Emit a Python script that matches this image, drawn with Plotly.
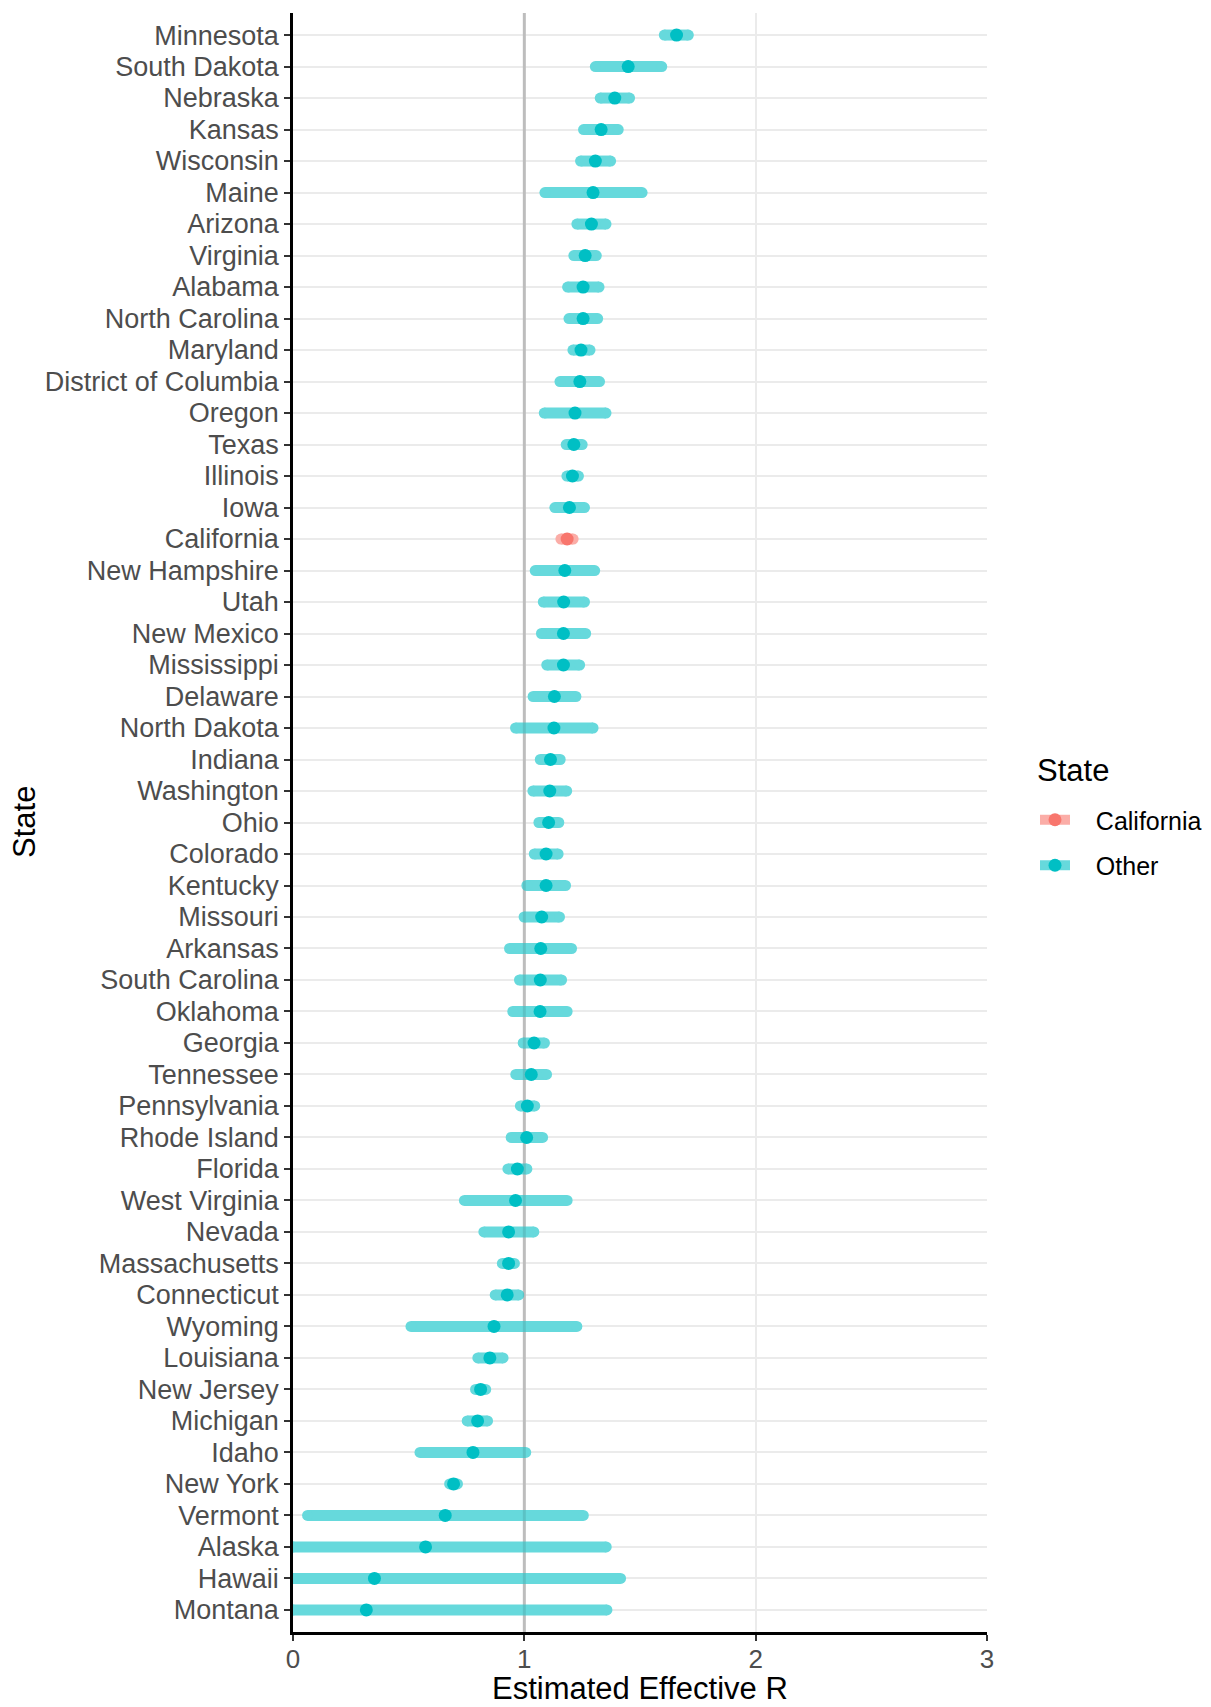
import plotly.graph_objects as go

# ---- data (top to bottom as shown) ----
states = ["Minnesota", "South Dakota", "Nebraska", "Kansas", "Wisconsin", "Maine",
          "Arizona", "Virginia", "Alabama", "North Carolina", "Maryland",
          "District of Columbia", "Oregon", "Texas", "Illinois", "Iowa", "California",
          "New Hampshire", "Utah", "New Mexico", "Mississippi", "Delaware",
          "North Dakota", "Indiana", "Washington", "Ohio", "Colorado", "Kentucky",
          "Missouri", "Arkansas", "South Carolina", "Oklahoma", "Georgia", "Tennessee",
          "Pennsylvania", "Rhode Island", "Florida", "West Virginia", "Nevada",
          "Massachusetts", "Connecticut", "Wyoming", "Louisiana", "New Jersey",
          "Michigan", "Idaho", "New York", "Vermont", "Alaska", "Hawaii", "Montana"]
r_est = [1.658, 1.449, 1.391, 1.332, 1.307, 1.297, 1.290, 1.263, 1.254, 1.254, 1.245,
         1.240, 1.219, 1.214, 1.208, 1.195, 1.185, 1.175, 1.170, 1.169, 1.169, 1.130,
         1.128, 1.113, 1.110, 1.105, 1.094, 1.094, 1.075, 1.071, 1.069, 1.068, 1.042,
         1.030, 1.013, 1.010, 0.970, 0.962, 0.932, 0.932, 0.926, 0.869, 0.851, 0.811,
         0.798, 0.778, 0.694, 0.658, 0.573, 0.352, 0.317]
r_lo = [1.605, 1.307, 1.328, 1.256, 1.243, 1.089, 1.227, 1.214, 1.187, 1.193, 1.210,
        1.154, 1.086, 1.181, 1.184, 1.132, 1.158, 1.047, 1.082, 1.074, 1.097, 1.038,
        0.962, 1.069, 1.037, 1.063, 1.043, 1.011, 0.999, 0.936, 0.979, 0.950, 0.995,
        0.963, 0.983, 0.943, 0.929, 0.741, 0.825, 0.905, 0.874, 0.510, 0.799, 0.789,
        0.753, 0.549, 0.677, 0.063, 0.0, 0.0, 0.0]
r_hi = [1.709, 1.594, 1.455, 1.406, 1.373, 1.509, 1.353, 1.311, 1.323, 1.317, 1.284,
        1.325, 1.353, 1.250, 1.234, 1.260, 1.211, 1.304, 1.260, 1.265, 1.239, 1.223,
        1.297, 1.155, 1.183, 1.149, 1.146, 1.178, 1.152, 1.204, 1.161, 1.185, 1.087,
        1.096, 1.045, 1.079, 1.011, 1.185, 1.041, 0.957, 0.976, 1.227, 0.908, 0.833,
        0.841, 1.006, 0.711, 1.255, 1.354, 1.416, 1.357]
highlight = "California"
groups = ["California", "Other"]
x_ticks = [0, 1, 2, 3]

# ---- styles ----
FONT = "Liberation Sans, Arial, sans-serif"
dot_col = {"California": "#F8766D", "Other": "#00BFC4"}
bar_col = {"California": "#FBADA7", "Other": "#66D9DC"}
BAR_W = 11
DOT_S = 13

n = len(states)
ypos = {s: n - 1 - i for i, s in enumerate(states)}  # Minnesota at top

fig = go.Figure()

# reference line at R = 1 (under the bars)
fig.add_trace(go.Scatter(x=[1, 1], y=[-0.7, n - 0.3], mode="lines",
                         line=dict(color="#D3D3D3", width=3),
                         showlegend=False, hoverinfo="skip"))

for g in groups:
    xs, ys = [], []
    for s, lo, hi in zip(states, r_lo, r_hi):
        grp = "California" if s == highlight else "Other"
        if grp != g:
            continue
        xs += [lo, hi, None]
        ys += [ypos[s], ypos[s], None]
    fig.add_trace(go.Scatter(x=xs, y=ys, mode="lines+markers",
                             line=dict(color=bar_col[g], width=BAR_W),
                             marker=dict(color=bar_col[g], size=BAR_W, line=dict(width=0)),
                             showlegend=False, hoverinfo="skip"))

# see-through effect of the reference line over bars
fig.add_trace(go.Scatter(x=[1, 1], y=[-0.7, n - 0.3], mode="lines",
                         line=dict(color="rgba(0,0,0,0.1)", width=3),
                         showlegend=False, hoverinfo="skip"))

for g in groups:
    xs, ys, names = [], [], []
    for s, e in zip(states, r_est):
        grp = "California" if s == highlight else "Other"
        if grp != g:
            continue
        xs.append(e)
        ys.append(ypos[s])
        names.append(s)
    fig.add_trace(go.Scatter(x=xs, y=ys, mode="markers",
                             marker=dict(color=dot_col[g], size=DOT_S, line=dict(width=0)),
                             showlegend=False, text=names,
                             hovertemplate="%{text}: %{x:.2f}<extra></extra>"))

# legend entries
NB = "\u00a0\u00a0\u00a0"
for g in groups:
    fig.add_trace(go.Scatter(x=[None], y=[None], mode="lines+markers", name=NB + g,
                             legendgroup=g,
                             line=dict(color=bar_col[g], width=BAR_W),
                             marker=dict(color=dot_col[g], size=DOT_S, line=dict(width=0))))

# page has an 8px body margin: shift everything by it
OFF = 8
L, R, T, B = 293 - OFF, 224, 13 - OFF, 75
W, H = 1211 - OFF, 1707 - OFF
pw, ph = W - L - R, H - T - B


def py(y_full):  # full-page pixel y -> paper y
    return (H - B - (y_full - OFF)) / ph


def px(x_full):  # full-page pixel x -> paper x
    return ((x_full - OFF) - L) / pw


fig.update_layout(
    width=W, height=H,
    margin=dict(l=L, r=R, t=T, b=B, autoexpand=False),
    paper_bgcolor="white", plot_bgcolor="white",
    font=dict(family=FONT, color="#4D4D4D", size=27),
    showlegend=True,
    legend=dict(
        font=dict(size=25, color="black", family=FONT),
        x=px(1035), xanchor="left",
        y=py(797), yanchor="top",
        tracegroupgap=10, itemsizing="trace",
        bgcolor="rgba(0,0,0,0)",
    ),
    xaxis=dict(
        range=[0, 3], tickvals=x_ticks, ticktext=[str(v) for v in x_ticks],
        showgrid=True, gridcolor="#EBEBEB", gridwidth=2,
        zeroline=False, showline=True, linecolor="black", linewidth=2.5,
        ticks="outside", ticklen=6, tickwidth=2, tickcolor="#333333",
        tickfont=dict(size=26, color="#4D4D4D", family=FONT),
        ticklabelstandoff=-4,
        automargin=False, fixedrange=True,
    ),
    yaxis=dict(
        range=[-0.7, n - 0.3], tickvals=[ypos[s] for s in states], ticktext=states,
        showgrid=True, gridcolor="#EBEBEB", gridwidth=2,
        zeroline=False, showline=True, linecolor="black", linewidth=2.5,
        ticks="outside", ticklen=6, tickwidth=2, tickcolor="#333333",
        tickfont=dict(size=27, color="#4D4D4D", family=FONT),
        ticklabelstandoff=0,
        automargin=False, fixedrange=True,
    ),
    annotations=[
        dict(text="Estimated Effective R", xref="paper", yref="paper",
             x=px(640), y=py(1688), xanchor="center", yanchor="middle",
             showarrow=False, borderpad=0,
             font=dict(size=31, color="black", family=FONT)),
        dict(text="State", xref="paper", yref="paper",
             x=px(24), y=py(822), xanchor="center", yanchor="middle", textangle=-90,
             showarrow=False, borderpad=0,
             font=dict(size=31, color="black", family=FONT)),
        dict(text="State", xref="paper", yref="paper",
             x=px(1035), y=py(770), xanchor="left", yanchor="middle",
             showarrow=False, font=dict(size=31, color="black", family=FONT)),
    ],
)

fig.write_html("out.html")
